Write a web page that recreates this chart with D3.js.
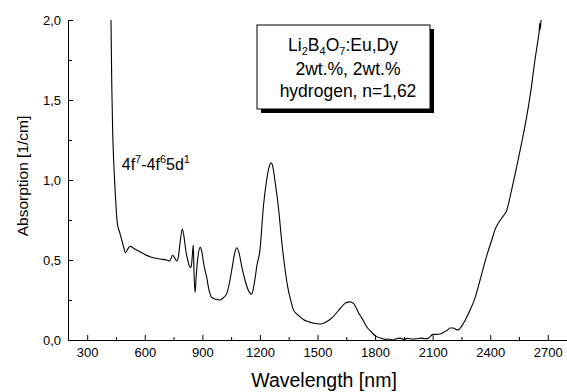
<!DOCTYPE html>
<html lang="en">
<head>
<meta charset="UTF-8">
<title>Absorption spectrum</title>
<script src="https://d3js.org/d3.v7.min.js"></script>
<style>
  body { margin: 0; background: white; }
  svg { display: block; font-family: Arial, "Liberation Sans", sans-serif; }
  .axis path, .axis line { stroke: black; }
  .axis text { font-size: 13px; fill: black; }
</style>
</head>
<body>
<svg></svg>
<script>
// wavelength [nm] and absorption [1/cm]
const wavelength = [
  424, 428, 433, 437, 441, 447, 452, 457, 462, 470, 480, 490, 500, 510, 520, 527, 540, 558, 580, 600,
  627, 650, 680, 714, 730, 745, 755, 766, 775, 785, 796, 805, 815, 824, 836, 842, 850, 853, 856, 862,
  868, 878, 889, 896, 908, 922, 935, 949, 970, 992, 1010, 1027, 1040, 1055, 1068, 1079, 1090, 1105, 1122, 1140,
  1157, 1170, 1185, 1200, 1218, 1235, 1250, 1258, 1266, 1280, 1296, 1315, 1330, 1345, 1360, 1374, 1390, 1410, 1426, 1450,
  1480, 1513, 1540, 1565, 1582, 1610, 1635, 1652, 1670, 1687, 1700, 1715, 1730, 1756, 1780, 1808, 1830, 1850, 1870, 1890,
  1910, 1930, 1950, 1970, 1990, 2017, 2040, 2060, 2077, 2090, 2100, 2120, 2138, 2160, 2175, 2190, 2207, 2222, 2234, 2250,
  2270, 2295, 2320, 2347, 2380, 2408, 2425, 2442, 2465, 2486, 2510, 2538, 2565, 2590, 2612, 2633, 2648, 2655, 2658, 2660,
  2665
];
const absorption = [
  2.00, 1.60, 1.29, 1.15, 1.04, 0.90, 0.80, 0.73, 0.70, 0.67, 0.625, 0.58, 0.546, 0.565, 0.583, 0.585, 0.575, 0.562, 0.548, 0.535,
  0.521, 0.512, 0.506, 0.500, 0.494, 0.530, 0.515, 0.494, 0.52, 0.62, 0.694, 0.64, 0.55, 0.50, 0.454, 0.46, 0.56, 0.594, 0.45, 0.296,
  0.40, 0.53, 0.579, 0.56, 0.47, 0.396, 0.31, 0.267, 0.255, 0.250, 0.265, 0.29, 0.35, 0.45, 0.54, 0.577, 0.55, 0.46, 0.375, 0.31,
  0.287, 0.35, 0.47, 0.56, 0.833, 1.00, 1.09, 1.108, 1.09, 0.98, 0.833, 0.60, 0.45, 0.33, 0.25, 0.19, 0.165, 0.145, 0.128, 0.115,
  0.105, 0.100, 0.110, 0.128, 0.146, 0.185, 0.22, 0.235, 0.238, 0.229, 0.205, 0.167, 0.14, 0.083, 0.05, 0.021, 0.012, 0.004, 0.006, 0.0,
  0.008, 0.012, 0.004, 0.010, 0.006, 0.008, 0.012, 0.008, 0.01, 0.025, 0.035, 0.035, 0.037, 0.05, 0.06, 0.075, 0.075, 0.066, 0.063, 0.085,
  0.125, 0.1875, 0.26, 0.375, 0.52, 0.625, 0.69, 0.73, 0.77, 0.81, 0.93, 1.083, 1.24, 1.396, 1.56, 1.75, 1.87, 1.93, 1.98, 1.94,
  2.0
];

const xTicks = [300, 600, 900, 1200, 1500, 1800, 2100, 2400, 2700];
const xMinorTicks = [450, 750, 1050, 1350, 1650, 1950, 2250, 2550];
const yTicks = [0, 0.5, 1.0, 1.5, 2.0];
const yMinorTicks = [0.25, 0.75, 1.25, 1.75];
const legendLines = ["2wt.%, 2wt.%", "hydrogen, n=1,62"];

const w = 567, h = 392;
const svg = d3.select("svg").attr("width", w).attr("height", h);

const x = d3.scaleLinear().domain([200, 2800]).range([68, 567]);
const y = d3.scaleLinear().domain([0, 2]).range([340, 20]);

const comma = d => d3.format(".1f")(d).replace(".", ",");

// minor ticks first, then major axes
svg.append("g").attr("class", "axis")
   .attr("transform", "translate(0,340)")
   .call(d3.axisTop(x).tickValues(xMinorTicks).tickSize(3).tickFormat(""))
   .select(".domain").remove();
svg.append("g").attr("class", "axis")
   .attr("transform", "translate(68,0)")
   .call(d3.axisRight(y).tickValues(yMinorTicks).tickSize(4).tickFormat(""))
   .select(".domain").remove();

const xAxis = svg.append("g").attr("class", "axis")
   .attr("transform", "translate(0,340)")
   .call(d3.axisTop(x).tickValues(xTicks).tickSize(5).tickSizeOuter(0).tickFormat(d3.format("d")));
xAxis.selectAll("text").attr("y", 8).attr("dy", "0.71em");

const yAxis = svg.append("g").attr("class", "axis")
   .attr("transform", "translate(68,0)")
   .call(d3.axisRight(y).tickValues(yTicks).tickSize(5).tickSizeOuter(0).tickFormat(comma));
yAxis.selectAll("text").attr("x", -7).attr("text-anchor", "end");

// spectrum
const pts = wavelength.map((d, i) => [d, absorption[i]]);
svg.append("path")
   .datum(pts)
   .attr("fill", "none")
   .attr("stroke", "black")
   .attr("stroke-width", 1.1)
   .attr("d", d3.line().curve(d3.curveMonotoneX).x(d => x(d[0])).y(d => y(d[1])));

// axis titles
svg.append("text")
   .attr("x", 324).attr("y", 387)
   .attr("text-anchor", "middle")
   .style("font-size", "19.5px")
   .text("Wavelength [nm]");
svg.append("text")
   .attr("transform", "rotate(-90)")
   .attr("x", -176).attr("y", 28)
   .attr("text-anchor", "middle")
   .style("font-size", "15.5px")
   .text("Absorption [1/cm]");

// annotation
const ann = svg.append("text")
   .attr("x", x(480)).attr("y", y(1.06))
   .style("font-size", "16px");
ann.append("tspan").text("4f");
ann.append("tspan").attr("dy", -7).style("font-size", "11px").text("7");
ann.append("tspan").attr("dy", 7).text("-4f");
ann.append("tspan").attr("dy", -7).style("font-size", "11px").text("6");
ann.append("tspan").attr("dy", 7).text("5d");
ann.append("tspan").attr("dy", -7).style("font-size", "11px").text("1");

// legend box with shadow
const lg = svg.append("g");
lg.append("rect").attr("x", 261).attr("y", 29).attr("width", 173).attr("height", 84).attr("fill", "black");
lg.append("rect").attr("x", 257).attr("y", 25).attr("width", 173).attr("height", 84)
  .attr("fill", "white").attr("stroke", "black").attr("stroke-width", 1);

const t1 = lg.append("text").attr("x", 343).attr("y", 51)
  .attr("text-anchor", "middle").style("font-size", "17.5px");
[["Li", 0], ["2", 1], ["B", 0], ["4", 1], ["O", 0], ["7", 1], [":Eu,Dy", 0]].forEach(([s, sub], i, arr) => {
  const prevSub = i > 0 && arr[i - 1][1];
  t1.append("tspan")
    .attr("dy", sub ? 4 : (prevSub ? -4 : 0))
    .style("font-size", sub ? "11px" : null)
    .text(s);
});
legendLines.forEach((s, i) => {
  lg.append("text").attr("x", 348).attr("y", 75 + i * 22)
    .attr("text-anchor", "middle").style("font-size", "17.5px").text(s);
});
</script>
</body>
</html>
